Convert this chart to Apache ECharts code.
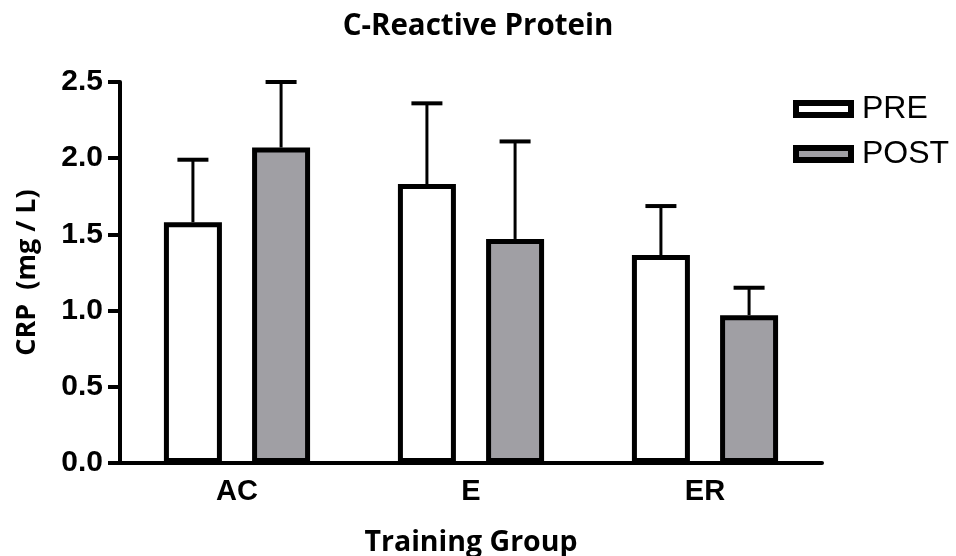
<!DOCTYPE html>
<html>
<head>
<meta charset="utf-8">
<script src="https://cdn.jsdelivr.net/npm/echarts@6/dist/echarts.min.js"></script>
<style>html,body{margin:0;padding:0;background:#fff}#c{width:956px;height:556px}</style>
</head>
<body>
<div id="c"></div>
<script>
const categories = ['AC', 'E', 'ER'];
const preValues = [1.58, 1.83, 1.365];
const postValues = [2.07, 1.47, 0.97];
const preErrTop = [1.99, 2.36, 1.686];
const postErrTop = [2.50, 2.11, 1.15];
const yTicks = [0, 0.5, 1.0, 1.5, 2.0, 2.5];

const BAR_W = 58;
const GAP = '52%';
const gapPx = BAR_W * 0.52;
const offsetPx = BAR_W / 2 + gapPx / 2;

function errSeries(name, vals, tops, sign) {
  return {
    type: 'custom',
    name: name + '_err',
    z: 1,
    silent: true,
    data: vals.map((v, i) => [i, v, tops[i]]),
    renderItem: function (params, api) {
      const p0 = api.coord([api.value(0), api.value(1)]);
      const p1 = api.coord([api.value(0), api.value(2)]);
      const x = p0[0] + sign * offsetPx;
      return {
        type: 'group',
        children: [
          { type: 'line', shape: { x1: x, y1: p0[1], x2: x, y2: p1[1] }, style: { stroke: '#000', lineWidth: 3 } },
          { type: 'line', shape: { x1: x - 15.5, y1: p1[1], x2: x + 15.5, y2: p1[1] }, style: { stroke: '#000', lineWidth: 4 } }
        ]
      };
    }
  };
}

const chart = echarts.init(document.getElementById('c'), null, { renderer: 'canvas' });
chart.setOption({
  animation: false,
  backgroundColor: '#fff',
  title: {
    text: 'C-Reactive Protein',
    left: 'center',
    top: 7,
    textStyle: { fontFamily: 'Open Sans', fontWeight: 'bold', fontSize: 29.5, color: '#000' }
  },
  legend: {
    left: 793,
    top: 93,
    padding: 0,
    orient: 'vertical',
    itemWidth: 55,
    itemHeight: 12,
    itemGap: 13,
    icon: 'rect',
    data: [
      { name: 'PRE', itemStyle: { color: '#fff', borderColor: '#000', borderWidth: 6 } },
      { name: 'POST', itemStyle: { color: '#a09fa4', borderColor: '#000', borderWidth: 6 } }
    ],
    textStyle: { fontFamily: 'Liberation Sans', fontSize: 32, color: '#000', padding: [0, 0, 0, 6] }
  },
  grid: { left: 120, right: 134, top: 82, bottom: 93, containLabel: false, outerBoundsMode: 'none' },
  xAxis: {
    type: 'category',
    data: categories,
    name: 'Training Group',
    nameLocation: 'middle',
    nameGap: 65,
    nameTextStyle: { fontFamily: 'Open Sans', fontWeight: 'bold', fontSize: 28.5, color: '#000' },
    axisLine: { lineStyle: { color: '#000', width: 4 } },
    axisTick: { alignWithLabel: true, length: 9, lineStyle: { color: '#000', width: 4 } },
    axisLabel: { fontFamily: 'Liberation Sans', fontWeight: 'bold', fontSize: 29, color: '#000', margin: 14 }
  },
  yAxis: {
    type: 'value',
    min: 0,
    max: 2.5,
    interval: 0.5,
    name: 'CRP  (mg / L)',
    nameLocation: 'middle',
    nameGap: 79,
    nameTextStyle: { fontFamily: 'Open Sans', fontWeight: 'bold', fontSize: 27, color: '#000' },
    splitLine: { show: false },
    axisLine: { show: true, lineStyle: { color: '#000', width: 4 } },
    axisTick: { show: true, length: 12, lineStyle: { color: '#000', width: 4 } },
    axisLabel: {
      fontFamily: 'Liberation Sans', fontWeight: 'bold', fontSize: 30, color: '#000', margin: 17,
      formatter: v => (yTicks.indexOf(v) >= 0 ? v.toFixed(1) : '')
    }
  },
  series: [
    {
      name: 'PRE', type: 'bar', barWidth: BAR_W, barGap: GAP, z: 2,
      data: preValues,
      itemStyle: { color: '#fff', borderColor: '#000', borderWidth: 5 }
    },
    {
      name: 'POST', type: 'bar', barWidth: BAR_W, barGap: GAP, z: 2,
      data: postValues,
      itemStyle: { color: '#a09fa4', borderColor: '#000', borderWidth: 5 }
    },
    errSeries('PRE', preValues, preErrTop, -1),
    errSeries('POST', postValues, postErrTop, 1)
  ]
});
</script>
</body>
</html>
